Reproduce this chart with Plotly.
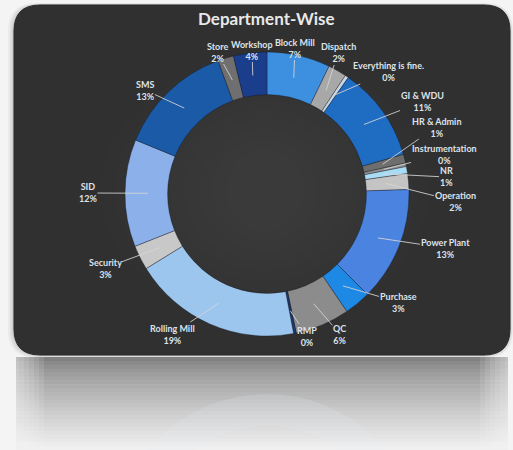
import math
import plotly.graph_objects as go

# ---------------- data ----------------
departments = ["Block Mill", "Dispatch", "Everything is fine.", "GI & WDU", "HR & Admin",
               "Instrumentation", "NR", "Operation", "Power Plant", "Purchase", "QC", "RMP",
               "Rolling Mill", "Security", "SID", "SMS", "Store", "Workshop"]
shares = [7.2, 2.1, 0.4, 10.8, 1.0, 0.4, 0.8, 1.8, 13.0, 3.0, 6.2, 0.3,
          19.2, 2.8, 12.2, 13.2, 1.8, 3.8]
title_text = "Department-Wise"

# ---------------- style ----------------
W, H = 513, 450
slice_colors = ["#3d8fdf", "#a8a8a8", "#c9d6e3", "#1f6dc2", "#6e6e6e", "#8e8e8e",
                "#a8dcf5", "#c4c4c4", "#4a84e0", "#1e88e5", "#8c8c8c", "#1c3a6e",
                "#9cc6ee", "#c8c8c8", "#8cb1ea", "#1b5aa6", "#6f6f6f", "#1a3d8c"]
# label text centres (pixels) – layout only
label_pos = [(295, 48), (338, 53), (388, 72), (422, 102), (436, 127), (444, 154),
             (446, 177), (455, 201), (445, 248), (398, 302), (340, 334), (307, 336),
             (172, 334), (105, 268), (88, 193), (145, 90), (217, 52), (252, 50)]
CX, CY, R = 267, 194, 142
HOLE = 0.70


def px(x):
    return x / W


def py(y):
    return 1 - y / H


fig = go.Figure()

fig.add_trace(go.Pie(
    labels=departments, values=shares, sort=False, direction="clockwise", rotation=0,
    hole=HOLE, textinfo="none", hoverinfo="label+percent",
    marker=dict(colors=slice_colors, line=dict(color="rgba(20,20,30,0.45)", width=0.8)),
    domain=dict(x=[px(CX - R), px(CX + R)], y=[py(CY + R), py(CY - R)]),
    showlegend=False,
))

# labels with leader lines
total = sum(shares)
cum = 0.0
annotations = []
for name, v, (lx, ly) in zip(departments, shares, label_pos):
    mid = (cum + v / 2) / total * 2 * math.pi
    cum += v
    rr = R * 0.84
    hx = CX + rr * math.sin(mid)
    hy = CY - rr * math.cos(mid)
    pct = round(v / total * 100)
    annotations.append(dict(
        x=px(hx), y=py(hy), xref="paper", yref="paper",
        ax=lx - hx, ay=ly - hy, axref="pixel", ayref="pixel",
        text=f"<b>{name}</b><br><b>{pct}%</b>", showarrow=True, arrowhead=0,
        arrowwidth=1, arrowcolor="rgba(215,215,215,0.85)",
        font=dict(family="Lato, Open Sans, sans-serif", size=9, color="#dde2ea"),
        align="center", borderpad=0,
    ))

annotations.append(dict(
    x=px(266), y=py(18), xref="paper", yref="paper", showarrow=False,
    xanchor="center", yanchor="middle",
    text=f"<b>{title_text}</b>",
    font=dict(family="Lato, Open Sans, sans-serif", size=17, color="#e8e8e8"),
))


def rrect(x0, y0, x1, y1, r):
    return (f"M {px(x0 + r)} {py(y0)} L {px(x1 - r)} {py(y0)} "
            f"Q {px(x1)} {py(y0)} {px(x1)} {py(y0 + r)} L {px(x1)} {py(y1 - r)} "
            f"Q {px(x1)} {py(y1)} {px(x1 - r)} {py(y1)} L {px(x0 + r)} {py(y1)} "
            f"Q {px(x0)} {py(y1)} {px(x0)} {py(y1 - r)} L {px(x0)} {py(y0 + r)} "
            f"Q {px(x0)} {py(y0)} {px(x0 + r)} {py(y0)} Z")


shapes = []
# soft shadow
for i, a in enumerate([0.04, 0.06, 0.08]):
    d = 6 - 2 * i
    shapes.append(dict(type="path", xref="paper", yref="paper",
                       path=rrect(14 - d, 5 - d / 3, 510 + d / 2, 355 + d / 2, 28),
                       fillcolor=f"rgba(0,0,0,{a})", line_width=0, layer="below"))
# reflection band (gradient by stacked strips)
top, bot = 357, 450
n = 24
for i in range(n):
    y0 = top + (bot - top) * i / n
    y1 = top + (bot - top) * (i + 1) / n + 0.6
    t = i / (n - 1)
    g = int(128 + (240 - 128) * t ** 0.75)
    shapes.append(dict(type="rect", xref="paper", yref="paper",
                       x0=px(16), x1=px(508), y0=py(y1), y1=py(y0),
                       fillcolor=f"rgb({g},{g},{g})", line_width=0, layer="below"))
# fade reflection sides
for i in range(6):
    w = 5 + i * 5
    shapes.append(dict(type="rect", xref="paper", yref="paper",
                       x0=px(14), x1=px(14 + w), y0=py(450), y1=py(357),
                       fillcolor="rgba(244,244,244,0.12)", line_width=0, layer="below"))
    shapes.append(dict(type="rect", xref="paper", yref="paper",
                       x0=px(510 - w), x1=px(510), y0=py(450), y1=py(357),
                       fillcolor="rgba(244,244,244,0.12)", line_width=0, layer="below"))
# faint reflected ring
shapes.append(dict(type="circle", xref="paper", yref="paper",
                   x0=px(CX - 138), x1=px(CX + 138), y0=py(548 + 138), y1=py(548 - 138),
                   line=dict(color="rgba(225,235,245,0.2)", width=32), fillcolor="rgba(0,0,0,0)",
                   layer="below"))
# dark card
shapes.append(dict(type="path", xref="paper", yref="paper", path=rrect(14, 5, 510, 355, 26),
                   fillcolor="#303030", line=dict(color="#282828", width=1), layer="below"))
# very subtle central glow (many thin layers)
for i in range(10):
    s = 14 * i
    shapes.append(dict(type="circle", xref="paper", yref="paper",
                       x0=px(100 + s), x1=px(430 - s), y0=py(320 - s * 0.7), y1=py(60 + s * 0.7),
                       fillcolor="rgba(255,255,255,0.006)", line_width=0, layer="below"))

fig.update_layout(
    width=W, height=H, margin=dict(l=0, r=0, t=0, b=0),
    paper_bgcolor="#f4f4f4", plot_bgcolor="rgba(0,0,0,0)",
    shapes=shapes, annotations=annotations, showlegend=False,
)

fig.write_html("out.html")
